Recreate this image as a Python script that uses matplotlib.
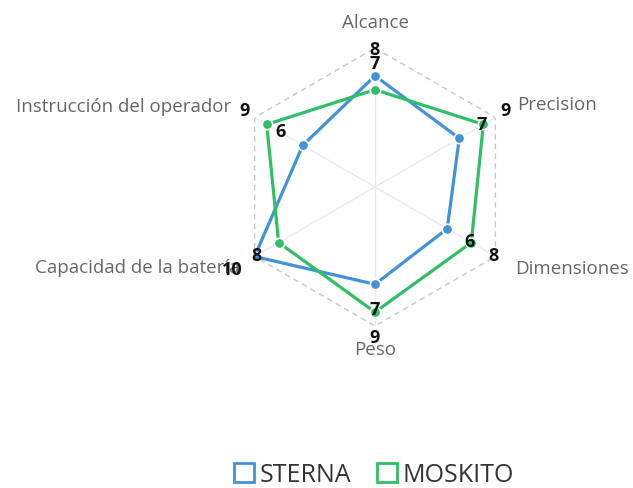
import numpy as np
import matplotlib
matplotlib.use("Agg")
import matplotlib.pyplot as plt
from matplotlib.patches import Patch

categories = ["Alcance", "Precision", "Dimensiones", "Peso",
              "Capacidad de la batería", "Instrucción del operador"]
sterna = [8, 7, 6, 7, 10, 6]
moskito = [7, 9, 8, 9, 8, 9]
series_names = ["STERNA", "MOSKITO"]
colors = ["#4292d8", "#2fbf64"]
r_max = 10

plt.rcParams['font.family'] = ['Open Sans', 'DejaVu Sans']

W, H = 633, 488
fig = plt.figure(figsize=(W / 100, H / 100), dpi=100)
cx, cy, R = 375, 187, 139
ax = fig.add_axes([(cx - R) / W, (H - cy - R) / H, 2 * R / W, 2 * R / H], projection='polar')
ax.set_theta_offset(np.pi / 2)
ax.set_theta_direction(-1)
ax.set_ylim(0, r_max)
ax.grid(False)
ax.spines['polar'].set_visible(False)
ax.set_xticks([])
ax.set_yticks([])
ax.patch.set_alpha(0)

n = len(categories)
theta = np.arange(n) * 2 * np.pi / n
tc = np.append(theta, theta[0])

# spokes
for t in theta:
    ax.plot([t, t], [0, r_max], color="#e8e8e8", lw=0.9, zorder=1)
# outer dashed hexagon
ax.plot(tc, [r_max] * (n + 1), color="#c8c8c8", lw=1.0, ls=(0, (4, 3)), zorder=1)

for vals, col in zip([sterna, moskito], colors):
    vc = vals + vals[:1]
    ax.plot(tc, vc, color=col, lw=2.3, zorder=3, solid_capstyle='round')
    ax.plot(theta, vals, ls='none', marker='o', ms=7.5, mfc=col, mec='white', mew=1.2, zorder=4)
    for t, v in zip(theta, vals):
        dx = 26 * np.sin(t)
        dy = 26 * np.cos(t)
        ax.annotate(str(v), xy=(t, v), xytext=(dx, dy), textcoords='offset pixels',
                    ha='center', va='center', fontsize=13, color="#111111",
                    fontweight='bold', zorder=6, annotation_clip=False)

# category labels
lab_off = [((0, 25), 'center'), ((22, 13), 'left'), ((20, -12), 'left'),
           ((0, -24), 'center'), ((-15, -11), 'right'), ((-23, 11), 'right')]
for t, c, (off, ha) in zip(theta, categories, lab_off):
    ax.annotate(c, xy=(t, r_max), xytext=off, textcoords='offset pixels',
                ha=ha, va='center', fontsize=13.5, color="#666666",
                zorder=5, annotation_clip=False)

handles = [Patch(facecolor='white', edgecolor=c, linewidth=2) for c in colors]
fig.legend(handles, series_names, loc='center', bbox_to_anchor=(374 / W, 1 - 475 / H),
           ncol=2, frameon=False, fontsize=18, handlelength=0.8, handleheight=0.8,
           handletextpad=0.25, columnspacing=1.0, labelcolor="#333333")

fig.savefig("out.png", dpi=100, facecolor='white')
